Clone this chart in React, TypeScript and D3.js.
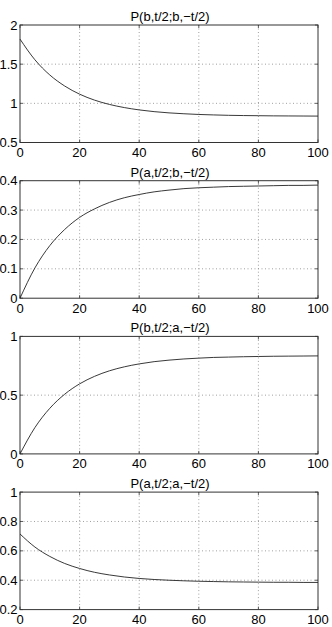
import React, { useEffect, useRef } from 'react';
import * as d3 from 'd3';

// time samples shared by every panel
const tValues = [0, 5, 10, 15, 20, 25, 30, 35, 40, 45, 50, 55, 60, 65, 70, 75, 80, 85, 90, 95, 100];

const bbValues = [1.82, 1.556, 1.362, 1.221, 1.117, 1.041, 0.986, 0.946, 0.916, 0.894, 0.878, 0.867, 0.858, 0.852, 0.847, 0.844, 0.842, 0.840, 0.839, 0.838, 0.837];
const abValues = [0, 0.103, 0.179, 0.234, 0.275, 0.304, 0.326, 0.342, 0.353, 0.362, 0.368, 0.373, 0.376, 0.378, 0.380, 0.381, 0.382, 0.383, 0.384, 0.384, 0.385];
const baValues = [0, 0.224, 0.388, 0.508, 0.596, 0.660, 0.707, 0.741, 0.766, 0.785, 0.798, 0.808, 0.815, 0.821, 0.824, 0.827, 0.829, 0.831, 0.832, 0.833, 0.834];
const aaValues = [0.715, 0.626, 0.562, 0.514, 0.480, 0.454, 0.436, 0.422, 0.412, 0.405, 0.400, 0.396, 0.393, 0.391, 0.389, 0.388, 0.387, 0.386, 0.386, 0.385, 0.385];

const titles = ['P(b,t/2;b,\u2212t/2)', 'P(a,t/2;b,\u2212t/2)', 'P(b,t/2;a,\u2212t/2)', 'P(a,t/2;a,\u2212t/2)'];
const yDomains = [[0.5, 2], [0, 0.4], [0, 1], [0.2, 1]];
const yTicks = [[0.5, 1, 1.5, 2], [0, 0.1, 0.2, 0.3, 0.4], [0, 0.5, 1], [0.2, 0.4, 0.6, 0.8, 1]];
const xTicks = [0, 20, 40, 60, 80, 100];
const series = [bbValues, abValues, baValues, aaValues];

const App = () => {
  const ref = useRef<SVGSVGElement>(null);

  useEffect(() => {
    const svg = d3.select(ref.current);
    svg.selectAll('*').remove();

    const left = 20;
    const right = 318;
    const panelH = 117.5;
    const step = 155.7;
    const font = '"Liberation Sans", Arial, Helvetica, sans-serif';

    const x = d3.scaleLinear().domain([0, 100]).range([left, right]);

    series.forEach((vals, i) => {
      const top = 25 + i * step;
      const bottom = top + panelH;
      const y = d3.scaleLinear().domain(yDomains[i]).range([bottom, top]);
      const g = svg.append('g');

      // dotted grid
      g.selectAll('line.gx')
        .data(xTicks.slice(1, -1))
        .join('line')
        .attr('x1', d => x(d)).attr('x2', d => x(d))
        .attr('y1', top).attr('y2', bottom)
        .attr('stroke', '#777').attr('stroke-width', 0.7)
        .attr('stroke-dasharray', '1,2.5');
      g.selectAll('line.gy')
        .data(yTicks[i].slice(1, -1))
        .join('line')
        .attr('x1', left).attr('x2', right)
        .attr('y1', d => y(d)).attr('y2', d => y(d))
        .attr('stroke', '#777').attr('stroke-width', 0.7)
        .attr('stroke-dasharray', '1,2.5');

      // inward ticks on all four sides
      xTicks.forEach(t => {
        g.append('line').attr('x1', x(t)).attr('x2', x(t)).attr('y1', bottom).attr('y2', bottom - 3)
          .attr('stroke', '#333').attr('stroke-width', 0.8);
        g.append('line').attr('x1', x(t)).attr('x2', x(t)).attr('y1', top).attr('y2', top + 3)
          .attr('stroke', '#333').attr('stroke-width', 0.8);
      });
      yTicks[i].forEach(v => {
        g.append('line').attr('x1', left).attr('x2', left + 3).attr('y1', y(v)).attr('y2', y(v))
          .attr('stroke', '#333').attr('stroke-width', 0.8);
        g.append('line').attr('x1', right).attr('x2', right - 3).attr('y1', y(v)).attr('y2', y(v))
          .attr('stroke', '#333').attr('stroke-width', 0.8);
      });

      // box
      g.append('rect')
        .attr('x', left).attr('y', top)
        .attr('width', right - left).attr('height', panelH)
        .attr('fill', 'none').attr('stroke', '#333').attr('stroke-width', 1);

      // curve
      const line = d3.line<number>()
        .x((_, j) => x(tValues[j]))
        .y(d => y(d))
        .curve(d3.curveMonotoneX);
      g.append('path')
        .attr('d', line(vals))
        .attr('fill', 'none')
        .attr('stroke', '#222')
        .attr('stroke-width', 0.9);

      // tick labels
      g.selectAll('text.xl')
        .data(xTicks)
        .join('text')
        .attr('x', d => x(d))
        .attr('y', bottom + 14.5)
        .attr('text-anchor', 'middle')
        .attr('font-family', font).attr('font-size', 13)
        .text(d => String(d));
      g.selectAll('text.yl')
        .data(yTicks[i])
        .join('text')
        .attr('x', 17.5)
        .attr('y', d => y(d) + 4.6)
        .attr('text-anchor', 'end')
        .attr('font-family', font).attr('font-size', 13)
        .text(d => String(d));

      // title
      g.append('text')
        .attr('x', (left + right) / 2 + 1)
        .attr('y', top - 4)
        .attr('text-anchor', 'middle')
        .attr('font-family', font).attr('font-size', 13)
        .text(titles[i]);
    });
  }, []);

  return (
    <svg
      ref={ref}
      width={332}
      height={627}
      style={{ position: 'absolute', left: 0, top: 0, background: '#fff' }}
    />
  );
};

export default App;
